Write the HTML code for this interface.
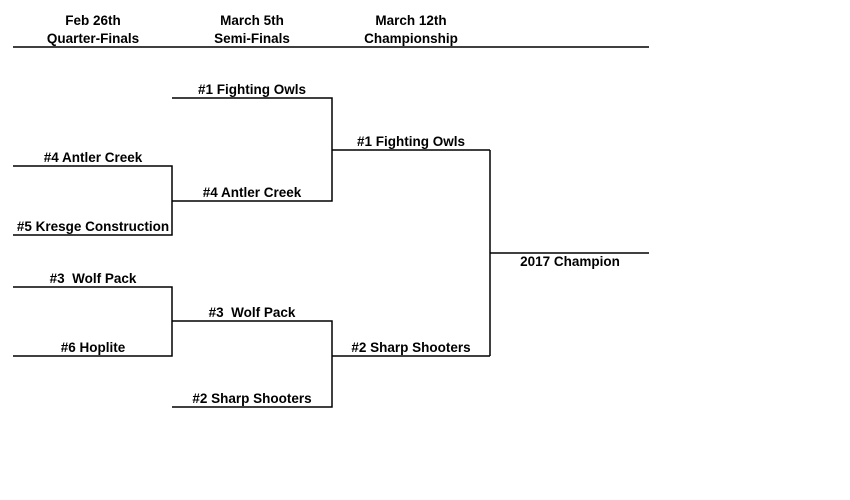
<!DOCTYPE html>
<html><head><meta charset="utf-8"><style>
html,body{margin:0;padding:0;background:#fff;width:850px;height:500px;overflow:hidden}
text{font-family:"Liberation Sans",Arial,sans-serif;font-weight:bold;font-size:13.5px;fill:#000;text-anchor:middle}
</style></head><body>
<svg width="850" height="500" xmlns="http://www.w3.org/2000/svg">
<g stroke="#000" stroke-width="1.5" fill="none">
<line x1="13" y1="47" x2="649" y2="47"/>
<polyline points="172,98 332,98 332,201 172,201"/>
<polyline points="13,166 172,166 172,235 13,235"/>
<polyline points="13,287 172,287 172,356 13,356"/>
<polyline points="172,321 332,321 332,407 172,407"/>
<line x1="332" y1="150" x2="490" y2="150"/>
<line x1="332" y1="356" x2="490" y2="356"/>
<line x1="490" y1="150" x2="490" y2="356"/>
<line x1="490" y1="253" x2="649" y2="253"/>
</g>
<text x="93" y="25">Feb 26th</text>
<text x="93" y="43">Quarter-Finals</text>
<text x="252" y="25">March 5th</text>
<text x="252" y="43">Semi-Finals</text>
<text x="411" y="25">March 12th</text>
<text x="411" y="43">Championship</text>
<text x="252" y="94">#1 Fighting Owls</text>
<text x="93" y="162">#4 Antler Creek</text>
<text x="93" y="231">#5 Kresge Construction</text>
<text x="252" y="197">#4 Antler Creek</text>
<text x="411" y="146">#1 Fighting Owls</text>
<text x="93" y="283">#3&#160; Wolf Pack</text>
<text x="93" y="352">#6 Hoplite</text>
<text x="252" y="317">#3&#160; Wolf Pack</text>
<text x="252" y="403">#2 Sharp Shooters</text>
<text x="411" y="352">#2 Sharp Shooters</text>
<text x="570" y="266">2017 Champion</text>
</svg>
</body></html>
